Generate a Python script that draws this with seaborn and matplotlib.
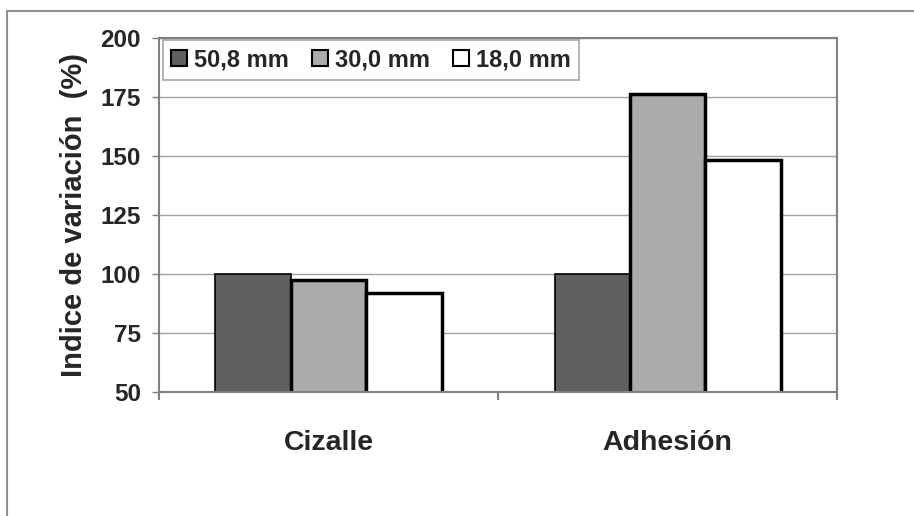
import pandas as pd
import numpy as np
import matplotlib.pyplot as plt
import seaborn as sns
from matplotlib.lines import Line2D

# -----------------------------
# Datos
# -----------------------------
categorias = ["Cizalle", "Adhesión"]
diametros = ["50,8 mm", "30,0 mm", "18,0 mm"]
indice_50 = [100, 100]
indice_30 = [97.5, 176.5]
indice_18 = [92, 148.5]
colores = ["#606060", "#ababab", "#ffffff"]
yticks = [50, 75, 100, 125, 150, 175, 200]

df = pd.DataFrame({
    "Ensayo": categorias * 3,
    "Diametro": np.repeat(diametros, len(categorias)),
    "Indice": indice_50 + indice_30 + indice_18,
})

sns.set_style("white")
plt.rcParams['font.family'] = ['Liberation Sans', 'DejaVu Sans']
plt.rcParams['font.weight'] = 'bold'

fig = plt.figure(figsize=(9.14, 5.16), dpi=100)
ax = fig.add_axes([0.174, 0.240, 0.742, 0.686])

sns.barplot(data=df, x="Ensayo", y="Indice", hue="Diametro", palette=colores,
            width=0.667, gap=0, saturation=1, ax=ax)

# bordes de las barras
for cont, lw in zip(ax.containers, [1.2, 2.5, 2.5]):
    for bar in cont:
        bar.set_edgecolor("black")
        bar.set_linewidth(lw)

# eje Y
ax.set_ylim(50, 200)
ax.set_yticks(yticks)
ax.set_yticklabels([str(v) for v in yticks], fontsize=17.5, fontweight='bold')
ax.yaxis.grid(True, color='#a0a0a0', lw=1)
ax.set_axisbelow(True)
ax.set_ylabel("Indice de variación  (%)", fontsize=21, fontweight='bold', labelpad=9)
ax.set_xlabel("")

# eje X: marcas entre categorías, etiquetas en el centro
ax.set_xlim(-0.5, 1.5)
ax.set_xticks([-0.5, 0.5, 1.5])
ax.set_xticklabels([])
ax.set_xticks([0, 1], minor=True)
ax.set_xticklabels(categorias, minor=True, fontsize=20.5, fontweight='bold')
ax.tick_params(axis='x', which='minor', bottom=False, length=0, pad=27)
ax.tick_params(axis='x', which='major', bottom=True, length=6, width=1.5, color='#808080')
ax.tick_params(axis='y', left=True, length=5, width=1, color='#808080', pad=8)

for sp in ax.spines.values():
    sp.set_visible(True)
    sp.set_color('#808080')
    sp.set_linewidth(1.5)

# leyenda
handles, labels = ax.get_legend_handles_labels()
for h in handles:
    h.set_edgecolor("black")
    h.set_linewidth(1.5)
ax.legend(handles, labels, ncol=3, loc='upper left', bbox_to_anchor=(0.006, 0.994),
          borderaxespad=0, frameon=True, fancybox=False, edgecolor='#909090',
          prop={'size': 17, 'weight': 'bold'}, handlelength=0.65, handleheight=0.65,
          handletextpad=0.3, columnspacing=1.0, borderpad=0.35)
ax.get_legend().get_frame().set_linewidth(1.2)

# marco exterior
fig.add_artist(Line2D([7/914, 1], [1 - 11/516] * 2, color='#909090', lw=1.5))
fig.add_artist(Line2D([7/914] * 2, [0, 1 - 11/516], color='#909090', lw=1.5))

plt.savefig("out.png", dpi=100)
